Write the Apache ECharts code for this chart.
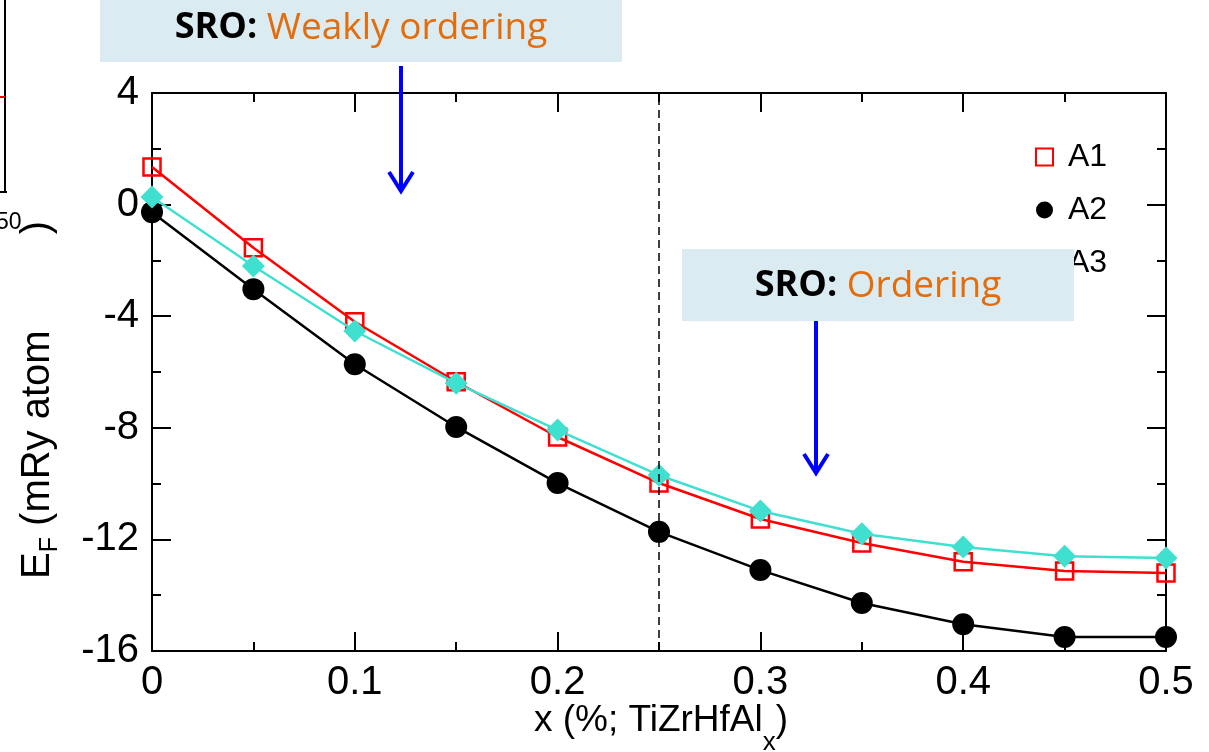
<!DOCTYPE html>
<html>
<head>
<meta charset="utf-8">
<script src="https://cdn.jsdelivr.net/npm/echarts@6/dist/echarts.min.js"></script>
<style>
  html, body { margin: 0; padding: 0; background: #fff; }
  #chart { width: 1209px; height: 752px; }
</style>
</head>
<body>
<div id="chart"></div>
<script>
// Composition x of TiZrHfAl_x
const xValues = [0, 0.05, 0.1, 0.15, 0.2, 0.25, 0.3, 0.35, 0.4, 0.45, 0.5];
// Formation energy E_F (mRy/atom) for the three configurations
const seriesA1 = [1.35, -1.55, -4.2, -6.35, -8.33, -9.98, -11.27, -12.13, -12.8, -13.13, -13.2];
const seriesA2 = [-0.27, -3.03, -5.72, -7.97, -9.98, -11.73, -13.1, -14.28, -15.04, -15.5, -15.5];
const seriesA3 = [0.27, -2.2, -4.53, -6.4, -8.08, -9.7, -10.98, -11.8, -12.27, -12.6, -12.67];
const seriesNames = ['A1', 'A2', 'A3'];
const xTickLabels = ['0', '0.1', '0.2', '0.3', '0.4', '0.5'];
const yTickLabels = ['-16', '-12', '-8', '-4', '0', '4'];
const boundaryX = 0.25;

const pairs = (ys) => xValues.map((x, i) => [x, ys[i]]);

const tickFont = 'Liberation Sans, Arial, Helvetica, sans-serif';
const calloutFont = 'Open Sans, Lato, sans-serif';

const axisCommon = {
  axisLine: { show: true, onZero: false, lineStyle: { color: '#000', width: 2 } },
  axisTick: { show: true, inside: true, length: 19, lineStyle: { color: '#000', width: 2 } },
  minorTick: { show: true, splitNumber: 2, length: 9, lineStyle: { color: '#000', width: 2 } },
  splitLine: { show: false },
  minorSplitLine: { show: false }
};

const xAxisBase = Object.assign({ type: 'value', min: 0, max: 0.5, interval: 0.1 }, axisCommon);
const yAxisBase = Object.assign({ type: 'value', min: -16, max: 4, interval: 4 }, axisCommon);

const option = {
  animation: false,
  backgroundColor: '#fff',
  grid: { left: 152, right: 43, top: 93, bottom: 101, containLabel: false },
  xAxis: [
    Object.assign({}, xAxisBase, {
      position: 'bottom',
      axisLabel: {
        color: '#000', fontSize: 40, fontFamily: tickFont, margin: 12,
        formatter: (v) => xTickLabels[Math.round(v / 0.1)]
      }
    }),
    Object.assign({}, xAxisBase, { position: 'top', axisLabel: { show: false } })
  ],
  yAxis: [
    Object.assign({}, yAxisBase, {
      position: 'left',
      axisLabel: {
        color: '#000', fontSize: 40, fontFamily: tickFont, margin: 13,
        formatter: (v) => yTickLabels[Math.round((v + 16) / 4)]
      }
    }),
    Object.assign({}, yAxisBase, { position: 'right', axisLabel: { show: false } })
  ],
  legend: {
    orient: 'vertical',
    left: 1035,
    top: 141,
    padding: 0,
    itemGap: 21,
    itemWidth: 17,
    itemHeight: 17,
    textStyle: { fontSize: 32, lineHeight: 32, color: '#000', fontFamily: tickFont, padding: [0, 0, 0, 10] },
    data: [
      { name: 'A1', icon: 'rect', itemStyle: { color: '#fff', borderColor: '#ff0000', borderWidth: 2 } },
      { name: 'A2', icon: 'circle', itemStyle: { color: '#000', borderWidth: 0 } },
      { name: 'A3', icon: 'diamond', itemStyle: { color: '#40e0d0', borderWidth: 0 } }
    ]
  },
  series: [
    {
      name: seriesNames[0], type: 'line', data: pairs(seriesA1),
      symbol: 'rect', symbolSize: 17,
      lineStyle: { color: '#ff0000', width: 2.5 },
      itemStyle: { color: 'rgba(0,0,0,0)', borderColor: '#ff0000', borderWidth: 2.5 },
      z: 3
    },
    {
      name: seriesNames[1], type: 'line', data: pairs(seriesA2),
      symbol: 'circle', symbolSize: 22,
      lineStyle: { color: '#000', width: 2.5 },
      itemStyle: { color: '#000' },
      z: 2,
      markLine: {
        silent: true,
        symbol: ['none', 'none'],
        label: { show: false },
        lineStyle: { color: '#000', width: 1.5, type: [8, 5] },
        data: [{ xAxis: boundaryX }]
      }
    },
    {
      name: seriesNames[2], type: 'line', data: pairs(seriesA3),
      symbol: 'diamond', symbolSize: [23, 23],
      lineStyle: { color: '#40e0d0', width: 2.5 },
      itemStyle: { color: '#40e0d0' },
      z: 4
    }
  ],
  graphic: [
    // edge of the neighbouring panel
    { type: 'line', z: 50, shape: { x1: 5, y1: 0, x2: 5, y2: 193 }, style: { stroke: '#000', lineWidth: 2 } },
    { type: 'line', z: 50, shape: { x1: 0, y1: 192, x2: 7, y2: 192 }, style: { stroke: '#000', lineWidth: 2 } },
    { type: 'line', z: 50, shape: { x1: 0, y1: 97, x2: 5, y2: 97 }, style: { stroke: '#ff0000', lineWidth: 2 } },
    { type: 'text', z: 50, x: -4, y: 223, style: { text: '50', fontSize: 23, fontFamily: tickFont, fill: '#000', verticalAlign: 'middle' } },

    // y axis title
    {
      type: 'text', z: 50, x: 38, y: 400, rotation: Math.PI / 2,
      style: {
        text: '{m|E}{s|F}{m| (mRy atom}{gap| }{m|)}',
        align: 'center', verticalAlign: 'middle',
        rich: {
          m: { fontSize: 40, fontFamily: tickFont, fill: '#000', verticalAlign: 'middle' },
          s: { fontSize: 25, fontFamily: tickFont, fill: '#000', verticalAlign: 'middle', padding: [24, 0, 0, 0] },
          gap: { fontSize: 40, fontFamily: tickFont, width: 96 }
        }
      }
    },
    // x axis title
    {
      type: 'text', z: 50, x: 661, y: 721,
      style: {
        text: '{m|x (%; TiZrHfAl}{s|x}{m|)}',
        align: 'center', verticalAlign: 'middle',
        rich: {
          m: { fontSize: 37, fontFamily: tickFont, fill: '#000', verticalAlign: 'middle' },
          s: { fontSize: 26, fontFamily: tickFont, fill: '#000', verticalAlign: 'middle', padding: [44, 0, 0, 0] }
        }
      }
    },

    // callout: weakly ordering region
    { type: 'rect', z: 100, shape: { x: 100, y: 0, width: 522, height: 62 }, style: { fill: '#daecf2' } },
    {
      type: 'text', z: 101, x: 361, y: 28,
      style: {
        text: '{b|SRO:} {o|Weakly ordering}',
        align: 'center', verticalAlign: 'middle',
        fontSize: 37, fontFamily: calloutFont,
        rich: {
          b: { fontSize: 36, fontFamily: calloutFont, fontWeight: 'bold', fill: '#000' },
          o: { fontSize: 37, fontFamily: calloutFont, fill: '#e46c0a' }
        }
      }
    },
    { type: 'line', z: 101, shape: { x1: 401, y1: 66, x2: 401, y2: 190 }, style: { stroke: '#0000ff', lineWidth: 4 } },
    { type: 'polyline', z: 101, shape: { points: [[389, 172], [401, 191], [413, 172]] }, style: { stroke: '#0000ff', lineWidth: 4, fill: null } },

    // callout: ordering region
    { type: 'rect', z: 100, shape: { x: 682, y: 249, width: 392, height: 72 }, style: { fill: '#daecf2' } },
    {
      type: 'text', z: 101, x: 878, y: 286,
      style: {
        text: '{b|SRO:} {o|Ordering}',
        align: 'center', verticalAlign: 'middle',
        fontSize: 37, fontFamily: calloutFont,
        rich: {
          b: { fontSize: 36, fontFamily: calloutFont, fontWeight: 'bold', fill: '#000' },
          o: { fontSize: 37, fontFamily: calloutFont, fill: '#e46c0a' }
        }
      }
    },
    { type: 'line', z: 101, shape: { x1: 816, y1: 321, x2: 816, y2: 472 }, style: { stroke: '#0000ff', lineWidth: 4 } },
    { type: 'polyline', z: 101, shape: { points: [[804, 454], [816, 473], [828, 454]] }, style: { stroke: '#0000ff', lineWidth: 4, fill: null } }
  ]
};

const chart = echarts.init(document.getElementById('chart'), null, { renderer: 'canvas' });
chart.setOption(option);
</script>
</body>
</html>
